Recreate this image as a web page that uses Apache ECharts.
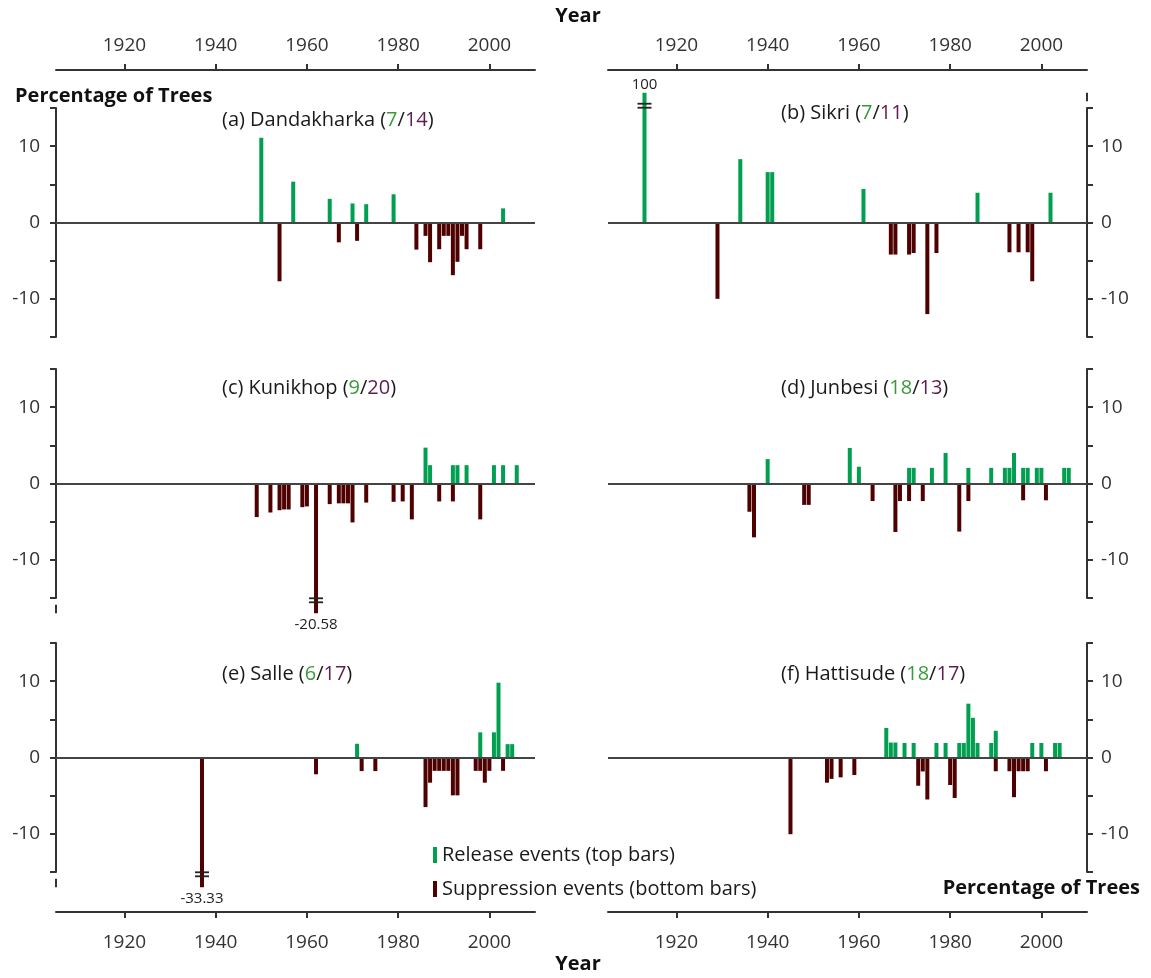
<!DOCTYPE html>
<html>
<head>
<meta charset="UTF-8">
<title>Release and suppression events</title>
<script src="https://cdn.jsdelivr.net/npm/echarts@6/dist/echarts.min.js"></script>
<style>html,body{margin:0;padding:0;background:#fff;}</style>
</head>
<body>
<div id="chart" style="width:1151px;height:978px;"></div>
<script>
// year, % of trees
var dandakharkaRelease = [[1950,11.1],[1957,5.35],[1965,3.1],[1970,2.5],[1973,2.4],[1979,3.7],[2003,1.85]];
var dandakharkaSuppression = [[1954,-7.7],[1967,-2.6],[1971,-2.4],[1984,-3.55],[1986,-1.75],[1987,-5.2],[1989,-3.5],[1990,-1.75],[1991,-1.75],[1992,-6.9],[1993,-5.15],[1994,-1.75],[1995,-3.5],[1998,-3.5]];

var sikriRelease = [[1913,100],[1934,8.3],[1940,6.6],[1941,6.6],[1961,4.4],[1986,3.9],[2002,3.9]];
var sikriSuppression = [[1929,-10],[1967,-4.2],[1968,-4.2],[1971,-4.2],[1972,-4.0],[1975,-12],[1977,-4.0],[1993,-3.9],[1995,-3.9],[1997,-3.9],[1998,-7.7]];

var kunikhopRelease = [[1986,4.7],[1987,2.4],[1992,2.4],[1993,2.4],[1995,2.4],[2001,2.4],[2003,2.4],[2006,2.4]];
var kunikhopSuppression = [[1949,-4.4],[1952,-3.8],[1954,-3.5],[1955,-3.4],[1956,-3.4],[1959,-3.1],[1960,-3.0],[1962,-20.58],[1965,-2.7],[1967,-2.6],[1968,-2.6],[1969,-2.6],[1970,-5.1],[1973,-2.5],[1979,-2.4],[1981,-2.35],[1983,-4.7],[1989,-2.35],[1992,-2.35],[1998,-4.7]];

var junbesiRelease = [[1940,3.2],[1958,4.65],[1960,2.2],[1971,2.05],[1972,2.05],[1976,2.05],[1979,4.0],[1984,2.05],[1989,2.05],[1992,2.05],[1993,2.05],[1994,4.0],[1996,2.05],[1997,2.05],[1999,2.05],[2000,2.05],[2005,2.05],[2006,2.05]];
var junbesiSuppression = [[1936,-3.7],[1937,-7.05],[1948,-2.8],[1949,-2.8],[1963,-2.3],[1968,-6.35],[1969,-2.3],[1971,-2.3],[1974,-2.3],[1982,-6.3],[1984,-2.3],[1996,-2.2],[2001,-2.2]];

var salleRelease = [[1971,1.8],[1998,3.3],[2001,3.3],[2002,9.8],[2004,1.75],[2005,1.75]];
var salleSuppression = [[1937,-33.33],[1962,-2.2],[1972,-1.78],[1975,-1.78],[1986,-6.5],[1987,-3.3],[1988,-1.75],[1989,-1.75],[1990,-1.75],[1991,-1.75],[1992,-4.96],[1993,-4.96],[1997,-1.75],[1998,-1.75],[1999,-3.3],[2000,-1.75],[2003,-1.75]];

var hattisudeRelease = [[1966,3.87],[1967,1.96],[1968,1.96],[1970,1.9],[1972,1.9],[1977,1.9],[1979,1.9],[1982,1.9],[1983,1.9],[1984,7.05],[1985,5.2],[1986,1.9],[1989,1.9],[1990,3.5],[1998,1.9],[2000,1.9],[2003,1.9],[2004,1.9]];
var hattisudeSuppression = [[1945,-10.05],[1953,-3.3],[1954,-2.8],[1956,-2.6],[1959,-2.3],[1973,-3.7],[1974,-1.83],[1975,-5.5],[1980,-3.6],[1981,-5.3],[1990,-1.8],[1993,-1.8],[1994,-5.2],[1995,-1.8],[1996,-1.8],[1997,-1.8],[2001,-1.8]];

// event counts printed in the panel titles
var releaseCounts = [7, 7, 9, 18, 6, 18];
var suppressionCounts = [14, 11, 20, 13, 17, 17];

var tickYears = [1920, 1940, 1960, 1980, 2000];
var relName = 'Release events (top bars)';
var supName = 'Suppression events (bottom bars)';

var panels = [
    {label: '(a) Dandakharka', rel: dandakharkaRelease, sup: dandakharkaSuppression, side: 'left', row: 0, ty: 120},
    {label: '(b) Sikri', rel: sikriRelease, sup: sikriSuppression, side: 'right', row: 0, ty: 113},
    {label: '(c) Kunikhop', rel: kunikhopRelease, sup: kunikhopSuppression, side: 'left', row: 1, ty: 388},
    {label: '(d) Junbesi', rel: junbesiRelease, sup: junbesiSuppression, side: 'right', row: 1, ty: 388},
    {label: '(e) Salle', rel: salleRelease, sup: salleSuppression, side: 'left', row: 2, ty: 674},
    {label: '(f) Hattisude', rel: hattisudeRelease, sup: hattisudeSuppression, side: 'right', row: 2, ty: 674}
];

var FONT = '"Open Sans", "Noto Sans", sans-serif';
var GREEN = '#00a050', RED = '#4f0000';
var X_MIN = 1905, X_MAX = 2010, Y_LIM = 15, CAP = 17;
var gridLeft = {left: 56, right: 608};
var gridTop = [108, 369, 643];

function capped(d) {
    if (Math.abs(d[1]) > Y_LIM) return [d[0], d[1] > 0 ? CAP : -CAP];
    return d;
}

function breakItem(side) {
    return function (params, api) {
        var year = api.value(0), cap = api.value(1), raw = api.value(2);
        var s = cap > 0 ? 1 : -1;
        var c = api.coord([year, s * 15.3]);
        var end = api.coord([year, cap]);
        var ax = side === 'left' ? X_MIN : X_MAX;
        var a1 = api.coord([ax, s * 15.9]);
        var a2 = api.coord([ax, s * 17]);
        var st = {stroke: '#222', lineWidth: 1.8};
        return {
            type: 'group',
            children: [
                {type: 'line', shape: {x1: c[0] - 7, y1: c[1] - 2, x2: c[0] + 7, y2: c[1] - 2}, style: st},
                {type: 'line', shape: {x1: c[0] - 7, y1: c[1] + 2, x2: c[0] + 7, y2: c[1] + 2}, style: st},
                {type: 'line', shape: {x1: a1[0], y1: a1[1], x2: a2[0], y2: a2[1]}, style: {stroke: '#333', lineWidth: 2}},
                {type: 'text', x: end[0], y: end[1] + (s > 0 ? 0 : 4),
                    style: {text: String(raw), fill: '#222', font: '15px ' + FONT,
                        textAlign: 'center', textVerticalAlign: s > 0 ? 'bottom' : 'top'}}
            ]
        };
    };
}

var grids = [], xAxes = [], yAxes = [], series = [], graphics = [];

panels.forEach(function (p, i) {
    grids.push({left: gridLeft[p.side], top: gridTop[p.row], width: 479, height: 229});
    xAxes.push({
        gridIndex: i, type: 'value', min: X_MIN, max: X_MAX,
        show: p.row !== 1,
        position: p.row === 0 ? 'top' : 'bottom',
        offset: p.row === 0 ? 38 : 40,
        axisLine: {onZero: false, lineStyle: {color: '#333', width: 2}},
        axisTick: {customValues: tickYears, length: 6, lineStyle: {color: '#333', width: 2}},
        axisLabel: {customValues: tickYears, formatter: function (v) { return String(v); },
            fontSize: 19, fontFamily: FONT, color: '#333', margin: p.row === 0 ? 15 : 21},
        splitLine: {show: false}
    });
    yAxes.push({
        gridIndex: i, type: 'value', min: -15, max: 15, interval: 5,
        position: p.side,
        axisLine: {show: true, onZero: false, lineStyle: {color: '#333', width: 2}},
        axisTick: {show: true, length: 6, lineStyle: {color: '#333', width: 2}},
        axisLabel: {formatter: function (v) { return (v % 10 === 0 && Math.abs(v) < 15) ? String(v) : ''; },
            fontSize: 19, fontFamily: FONT, color: '#333', margin: p.side === 'left' ? 16 : 14},
        splitLine: {show: false}
    });
    series.push({
        type: 'bar', name: relName, xAxisIndex: i, yAxisIndex: i,
        data: p.rel.map(capped), barWidth: 4, barGap: '-100%', clip: false,
        itemStyle: {color: GREEN},
        markLine: {silent: true, symbol: 'none', label: {show: false},
            lineStyle: {color: '#444', width: 2, type: 'solid'}, data: [{yAxis: 0}]}
    });
    series.push({
        type: 'bar', name: supName, xAxisIndex: i, yAxisIndex: i,
        data: p.sup.map(capped), barWidth: 4, barGap: '-100%', clip: false,
        itemStyle: {color: RED}
    });
    var breaks = p.rel.concat(p.sup).filter(function (d) { return Math.abs(d[1]) > Y_LIM; })
        .map(function (d) { return [d[0], capped(d)[1], d[1]]; });
    if (breaks.length) {
        series.push({
            type: 'custom', xAxisIndex: i, yAxisIndex: i, z: 5, silent: true,
            renderItem: breakItem(p.side), data: breaks
        });
    }
    graphics.push({
        type: 'text', x: p.side === 'left' ? 222 : 781, y: p.ty,
        style: {
            text: p.label + ' ({g|' + releaseCounts[i] + '}/{p|' + suppressionCounts[i] + '})',
            font: '20px ' + FONT, fill: '#1a1a1a', textVerticalAlign: 'middle',
            rich: {
                g: {fill: '#3a9a3a', fontSize: 20, fontFamily: FONT},
                p: {fill: '#5e1e4e', fontSize: 20, fontFamily: FONT}
            }
        }
    });
});

var boldFont = 'bold 20px ' + FONT;
graphics.push(
    {type: 'text', x: 578, y: 16, style: {text: 'Year', font: boldFont, fill: '#111', textAlign: 'center', textVerticalAlign: 'middle'}},
    {type: 'text', x: 578, y: 964, style: {text: 'Year', font: boldFont, fill: '#111', textAlign: 'center', textVerticalAlign: 'middle'}},
    {type: 'text', x: 15, y: 96, style: {text: 'Percentage of Trees', font: boldFont, fill: '#111', textVerticalAlign: 'middle'}},
    {type: 'text', x: 1140, y: 888, style: {text: 'Percentage of Trees', font: boldFont, fill: '#111', textAlign: 'right', textVerticalAlign: 'middle'}}
);

var chart = echarts.init(document.getElementById('chart'), null, {renderer: 'canvas'});
chart.setOption({
    animation: false,
    backgroundColor: '#fff',
    grid: grids,
    xAxis: xAxes,
    yAxis: yAxes,
    legend: {
        orient: 'vertical', left: 428, top: 840, icon: 'rect',
        itemWidth: 4, itemHeight: 16, itemGap: 14,
        textStyle: {fontSize: 20, fontFamily: FONT, color: '#1a1a1a'},
        data: [relName, supName]
    },
    graphic: graphics,
    series: series
});
</script>
</body>
</html>
